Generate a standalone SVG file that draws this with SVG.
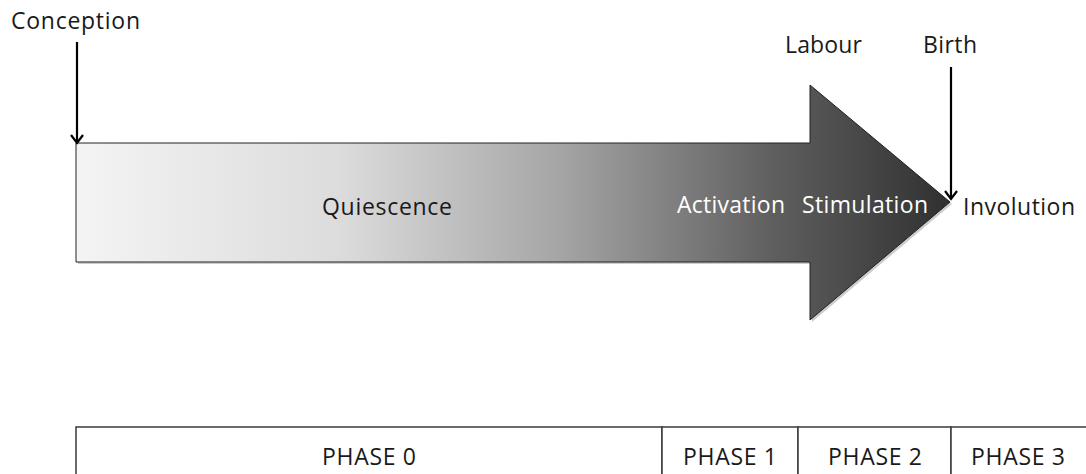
<svg xmlns="http://www.w3.org/2000/svg" width="1086" height="474" viewBox="0 0 1086 474">
<style>
text{font-family:"Open Sans","Noto Sans","Liberation Sans",sans-serif;font-size:23px;fill:#1a1a1a}
.w{fill:#ffffff}
.c{text-anchor:middle}
.ln{stroke:#000;stroke-width:2.2;fill:none}
.cell{fill:#fff;stroke:#3a3a3a;stroke-width:1.5}
</style>
<defs>
<linearGradient id="g" x1="76" y1="0" x2="950" y2="0" gradientUnits="userSpaceOnUse">
<stop offset="0" stop-color="#f4f4f4"/>
<stop offset="0.3" stop-color="#dcdcdc"/>
<stop offset="0.55" stop-color="#a6a6a6"/>
<stop offset="0.8" stop-color="#5e5e5e"/>
<stop offset="1" stop-color="#303030"/>
</linearGradient>
<marker id="ah" markerWidth="14" markerHeight="14" refX="12" refY="7" orient="auto" markerUnits="userSpaceOnUse" viewBox="0 0 14 14">
<path d="M4,1 L12,7 L4,13" fill="none" stroke="#000" stroke-width="2.2"/>
</marker>
</defs>
<g id="arrow">
<path d="M78,145 L812,145 L812,87 L952,204 L812,322 L812,264 L78,264 Z" fill="#999" opacity="0.5"/>
<path d="M76,143 L810,143 L810,85 L950,202 L810,320 L810,262 L76,262 Z" fill="url(#g)" stroke="#222" stroke-width="1"/>
<text x="387" y="215" class="c" textLength="130">Quiescence</text>
<text x="731" y="213" class="c w" textLength="108">Activation</text>
<text x="865" y="213" class="c w" textLength="126">Stimulation</text>
</g>
<g id="labels">
<text x="11" y="29" textLength="129">Conception</text>
<text x="785" y="53" textLength="77">Labour</text>
<text x="923" y="53" textLength="54">Birth</text>
<text x="963" y="215" textLength="112">Involution</text>
</g>
<g id="connectors">
<line x1="77" y1="42" x2="77" y2="143" class="ln" marker-end="url(#ah)"/>
<line x1="951" y1="67" x2="951" y2="199" class="ln" marker-end="url(#ah)"/>
</g>
<g id="phases">
<rect x="76" y="427" width="586" height="60" class="cell"/>
<rect x="662" y="427" width="136" height="60" class="cell"/>
<rect x="798" y="427" width="153" height="60" class="cell"/>
<rect x="951" y="427" width="140" height="60" class="cell"/>
<text x="369" y="465" class="c" textLength="94">PHASE 0</text>
<text x="730" y="465" class="c" textLength="94">PHASE 1</text>
<text x="875" y="465" class="c" textLength="94">PHASE 2</text>
<text x="1018" y="465" class="c" textLength="94">PHASE 3</text>
</g>
</svg>
